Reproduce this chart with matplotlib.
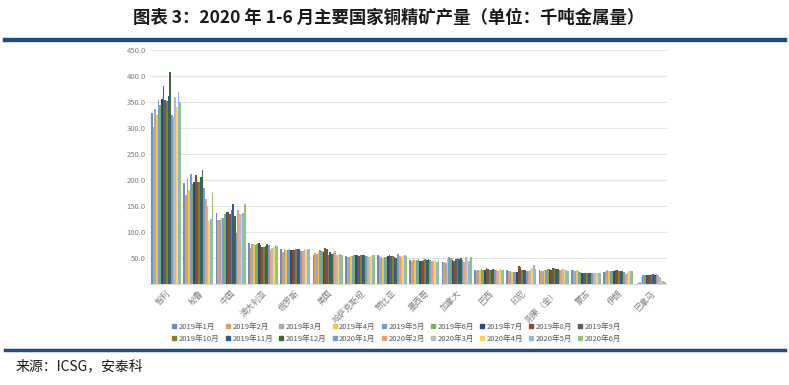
import numpy as np
import matplotlib
matplotlib.use("Agg")
import matplotlib.pyplot as plt
from matplotlib.lines import Line2D

plt.rcParams["font.family"] = ["Noto Sans CJK SC", "DejaVu Sans"]

countries = ["智利", "秘鲁", "中国", "澳大利亚", "俄罗斯", "美国", "哈萨克斯坦", "赞比亚",
             "墨西哥", "加拿大", "巴西", "印尼", "刚果（金）", "蒙古", "伊朗", "巴拿马"]

months = ["2019年1月", "2019年2月", "2019年3月", "2019年4月", "2019年5月", "2019年6月",
          "2019年7月", "2019年8月", "2019年9月", "2019年10月", "2019年11月", "2019年12月",
          "2020年1月", "2020年2月", "2020年3月", "2020年4月", "2020年5月", "2020年6月"]

# one row per country, one value per month (kt copper content)
chile = [329, 302, 337, 326, 355, 345, 356, 381, 354, 352, 362, 408, 325, 322, 361, 342, 370, 350]
peru = [195, 171, 205, 181, 212, 193, 197, 210, 197, 197, 206, 220, 185, 164, 151, 122, 125, 175]
china = [137, 124, 124, 127, 128, 135, 138, 138, 135, 143, 154, 131, 98, 142, 135, 136, 137, 154]
australia = [79, 70, 78, 78, 76, 78, 79, 75, 72, 71, 74, 77, 75, 66, 70, 72, 75, 74]
russia = [68, 62, 67, 66, 66, 67, 65, 66, 66, 68, 67, 68, 63, 64, 67, 66, 68, 67]
usa = [57, 60, 58, 62, 65, 63, 62, 70, 68, 56, 62, 58, 60, 64, 56, 57, 58, 57]
kazakhstan = [54, 52, 53, 54, 55, 56, 57, 57, 55, 56, 57, 57, 54, 55, 53, 55, 56, 56]
zambia = [56, 55, 53, 51, 52, 53, 55, 56, 55, 54, 53, 50, 58, 55, 53, 55, 56, 55]
mexico = [47, 45, 48, 46, 47, 49, 45, 44, 47, 48, 47, 48, 46, 45, 44, 47, 42, 46]
canada = [43, 42, 40, 48, 53, 50, 46, 45, 48, 50, 49, 51, 46, 42, 52, 50, 44, 52]
brazil = [28, 26, 28, 28, 29, 27, 28, 32, 30, 27, 28, 29, 27, 28, 26, 29, 28, 27]
indonesia = [28, 25, 26, 24, 24, 23, 24, 34, 33, 28, 27, 28, 26, 26, 29, 32, 36, 30]
drc = [27, 26, 26, 28, 28, 29, 30, 28, 32, 31, 29, 30, 27, 28, 29, 28, 28, 26]
mongolia = [28, 27, 25, 27, 26, 24, 22, 22, 22, 22, 22, 21, 22, 22, 22, 22, 22, 22]
iran = [24, 26, 27, 25, 26, 26, 26, 27, 27, 26, 26, 25, 24, 20, 22, 26, 25, 26]
panama = [1, 2, 4, 14, 17, 18, 18, 17, 18, 18, 19, 17, 19, 18, 14, 8, 6, 4]

colors = ["#6F8DC0", "#D9A06E", "#A8A8A8", "#F2C544", "#6FA0CF", "#7FB05E",
          "#2E4A7A", "#8B4A2A", "#5E5E5E", "#8C7A30", "#2E5E8E", "#3F6B3A",
          "#7B9BD0", "#EBA07C", "#BBBBBB", "#F7D56A", "#8DB8E0", "#94C47A"]


def main():
    data = np.array([chile, peru, china, australia, russia, usa, kazakhstan, zambia,
                     mexico, canada, brazil, indonesia, drc, mongolia, iran, panama])

    fig = plt.figure(figsize=(7.89, 3.85), dpi=100)
    ax = fig.add_axes([0.190, 0.262, 0.655, 0.607])

    n = len(months)
    group = 0.93
    w = group / n
    x = np.arange(len(countries))
    for i, m in enumerate(months):
        ax.bar(x - group / 2 + w * (i + 0.5), data[:, i], width=w,
               color=colors[i], label=m, zorder=2)

    ax.set_xlim(-0.5, len(countries) - 0.5)
    ax.set_ylim(0, 450)
    ax.set_yticks(np.arange(50, 451, 50))
    ax.set_yticklabels([f"{v:.1f}" for v in np.arange(50, 451, 50)],
                       fontsize=5.5, color="#7F7F7F")
    ax.yaxis.grid(True, color="#E3E3E3", linewidth=0.8, zorder=0)
    ax.set_xticks(x)
    ax.set_xticklabels(countries, rotation=45, ha="right", rotation_mode="anchor",
                       fontsize=6, color="#7F7F7F")
    ax.tick_params(axis="both", length=0, pad=3)
    for s in ["top", "right", "left"]:
        ax.spines[s].set_visible(False)
    ax.spines["bottom"].set_color("#D9D9D9")

    # legend is filled column by column, so interleave the two rows
    ncol = 9
    order = [r * ncol + c for c in range(ncol) for r in range(2)]
    handles = [Line2D([], [], marker="s", linestyle="", markersize=3.5,
                      color=colors[k]) for k in order]
    labels = [months[k] for k in order]
    fig.legend(handles, labels, ncol=ncol, loc="center", bbox_to_anchor=(0.503, 0.135),
               frameon=False, fontsize=5.5, handlelength=0.6, handletextpad=0.3,
               columnspacing=0.75, labelspacing=0.5, labelcolor="#595959")

    fig.text(0.492, 0.953, "图表 3：2020 年 1-6 月主要国家铜精矿产量（单位：千吨金属量）",
             ha="center", va="center", fontsize=12.5, fontweight="bold", color="#1A1A1A")
    fig.add_artist(Line2D([0.006, 0.995], [0.896, 0.896], color="#1F4E79",
                          linewidth=3.2, transform=fig.transFigure))
    fig.add_artist(Line2D([0.006, 0.995], [0.091, 0.091], color="#1F4E79",
                          linewidth=2.5, transform=fig.transFigure))
    fig.text(0.02, 0.048, "来源：ICSG，安泰科", ha="left", va="center",
             fontsize=10, color="#1A1A1A")

    fig.savefig("out.png", dpi=100)


if __name__ == "__main__":
    main()
